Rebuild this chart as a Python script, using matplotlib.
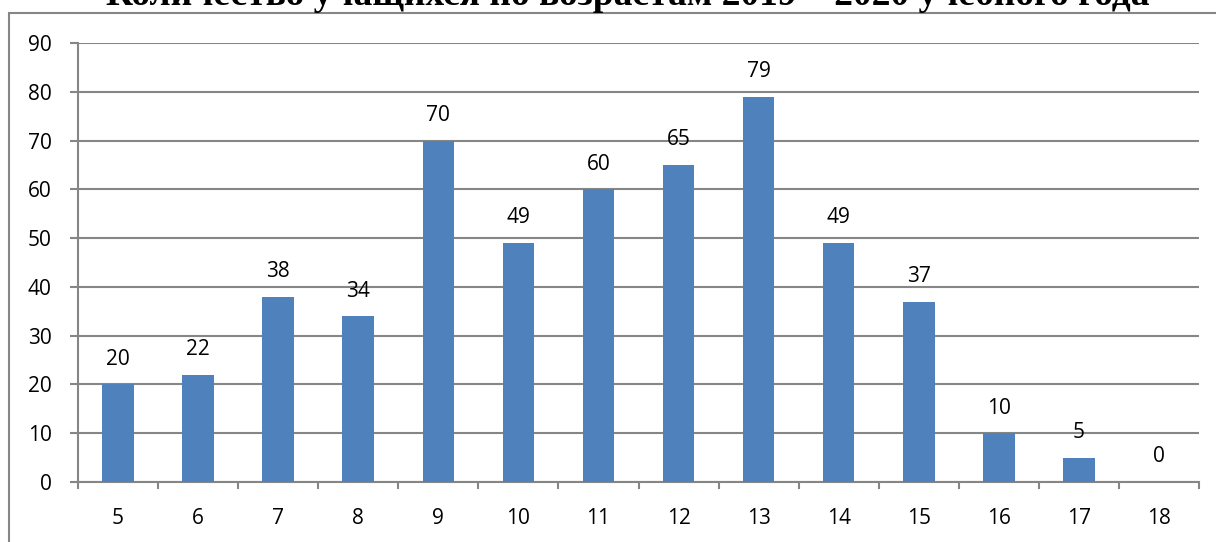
import matplotlib
matplotlib.use("Agg")
import matplotlib.pyplot as plt
from matplotlib.patches import Rectangle

ages = ["5", "6", "7", "8", "9", "10", "11", "12", "13", "14", "15", "16", "17", "18"]
counts = [20, 22, 38, 34, 70, 49, 60, 65, 79, 49, 37, 10, 5, 0]
title = "Количество учащихся по возрастам 2019 – 2020 учебного года"
yticks = list(range(0, 100, 10))

W, H = 1216, 542
fig = plt.figure(figsize=(W / 100, H / 100), dpi=100)
fig.patch.set_facecolor("white")

# outer frame (extends beyond the image on right and bottom)
fig.patches.append(Rectangle((9 / W, -0.1), 1.2, 1 - 13 / H + 0.1,
                             transform=fig.transFigure, fill=False,
                             edgecolor="#868686", linewidth=1.5))

L, R, T, B = 78, 1199, 43, 482
ax = fig.add_axes([L / W, 1 - B / H, (R - L) / W, (B - T) / H])
x = list(range(len(ages)))
ax.bar(x, counts, width=0.395, color="#4F81BD", zorder=3)
ax.set_xlim(-0.5, len(ages) - 0.5)
ax.set_ylim(0, 90)
ax.set_yticks(yticks)
ax.set_xticks(x)
ax.set_xticklabels(ages)
ax.set_xticks([i - 0.5 for i in range(len(ages) + 1)], minor=True)
ax.grid(axis="y", color="#868686", linewidth=1.5, zorder=0)
for s in ["top", "right"]:
    ax.spines[s].set_visible(False)
for s in ["left", "bottom"]:
    ax.spines[s].set_color("#868686")
    ax.spines[s].set_linewidth(1.5)
ax.tick_params(axis="x", which="major", length=0, pad=19, labelsize=15)
ax.tick_params(axis="x", which="minor", length=5, width=1.5, color="#868686")
ax.tick_params(axis="y", length=6, width=1.5, color="#868686", labelsize=15, pad=13)
for lab in ax.get_xticklabels() + ax.get_yticklabels():
    lab.set_fontfamily("Open Sans")
for xi, v in zip(x, counts):
    ax.annotate(str(v), (xi, v), xytext=(0, 18), textcoords="offset points",
                ha="center", va="center", fontsize=15, family="Open Sans")

fig.text(628 / W, 1 - 5 / H, title, ha="center", va="baseline",
         fontsize=27, fontweight="bold", family="Liberation Serif")

fig.savefig("out.png", dpi=100)
